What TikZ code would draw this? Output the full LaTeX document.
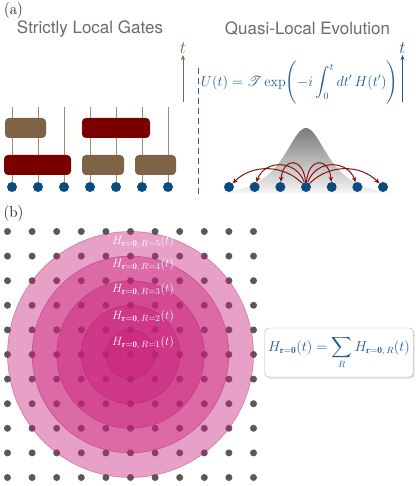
\documentclass[tikz,border=0pt]{standalone}
\usepackage{amsmath}
\usepackage{mathrsfs}
\usepackage{fontspec}
\setsansfont{TeX Gyre Heros}
\usetikzlibrary{arrows.meta,shadows,positioning}

\definecolor{gatebrown}{HTML}{7E6347}
\definecolor{gatered}{HTML}{7A0000}
\definecolor{wirebrown}{HTML}{A38B6E}
\definecolor{dotblue}{HTML}{0B4C80}
\definecolor{titlegray}{HTML}{6B6B6B}
\definecolor{eqblue}{HTML}{1A5B90}
\definecolor{dashblue}{HTML}{4B5B75}
\definecolor{arcred}{HTML}{8B1010}
\definecolor{gridgray}{HTML}{595959}
\definecolor{ringpink}{RGB}{200,30,120}

\tikzset{
  gate/.style={rounded corners=4pt, minimum height=20pt, inner sep=0pt},
  qubit/.style={circle, fill=dotblue, minimum size=10pt, inner sep=0pt},
  wire/.style={wirebrown, line width=1pt},
  title/.style={text=titlegray, font=\sffamily\fontsize{17}{20}\selectfont},
  ring/.style={fill=ringpink, fill opacity=0.42, draw=ringpink!85!black, draw opacity=0.45, line width=0.6pt},
  reach/.style={arcred, line width=1pt, -{Stealth[length=5pt,width=4.5pt]}},
}

\begin{document}
\begin{tikzpicture}[x=1pt,y=-1pt]

    \newcommand*{\xSite}{7.5}%
    \newcommand*{\ySite}{231.5}%
    \newcommand*{\dSite}{24.6}%
    \newcommand*{\yQubit}{187}%
    \def\Nsites {10}

    \useasboundingbox (0,0) rectangle (415,486);

    % (a) strictly local gates
    \node[font=\fontsize{16}{19}\selectfont] (laba) at (13.5,11) {(a)};
    \node[title] (tgates) at (90,29) {Strictly Local Gates};
    \node[title] (tquasi) at (307.5,29) {Quasi-Local Evolution};

    \foreach \i in {0,...,6} {
      \pgfmathsetmacro\xcoord{12 + 26*\i}
      \coordinate (w\i) at (\xcoord,107);
      \node[qubit] (q\i) at (\xcoord,\yQubit) {};
      \draw[wire] (w\i) -- (q\i);
    }
    \node[gate, fill=gatered,   minimum width=67pt] (g1) at (37.5,165) {};
    \node[gate, fill=gatebrown, minimum width=42pt] (g2) at (103,165) {};
    \node[gate, fill=gatebrown, minimum width=41pt] (g3) at (155.5,165) {};
    \node[gate, fill=gatebrown, minimum width=41pt] (g4) at (25.5,128) {};
    \node[gate, fill=gatered,   minimum width=68pt] (g5) at (116,128) {};

    \coordinate (tb0) at (183,102);
    \draw[gatebrown, line width=1pt, -{Stealth[length=5pt,width=4pt]}] (tb0) -- ++(0,-47)
      node[above, inner sep=1pt, font=\fontsize{17}{20}\selectfont] (tb) {$t$};

    \coordinate (d0) at (198,68);
    \coordinate (d1) at (198,198);
    \draw[dashblue, line width=1pt, dash pattern=on 6pt off 4pt] (d0) -- (d1);

    % quasi-local evolution
    \node[text=eqblue, font=\fontsize{14.3}{17}\selectfont] (ueq) at (299.5,83)
      {$U(t) = \mathscr{T}\exp\Biggl(-i\displaystyle\int_0^t dt'\,H(t')\Biggr)$};

    \coordinate (tq0) at (402.5,102);
    \draw[eqblue, line width=1pt, -{Stealth[length=5pt,width=4pt]}] (tq0) -- ++(0,-47)
      node[above, inner sep=1pt, font=\fontsize{18}{21}\selectfont] (tq) {$t$};

    \shade[top color=black!52, bottom color=black!4]
      plot[domain=222:390, samples=90] (\x,{193-65*(1/(1+((\x-306)/28)^2)-0.1)/0.9}) -- cycle;

    \foreach \i in {0,...,6} {
      \pgfmathsetmacro\xcoord{229 + 25.67*\i}
      \node[qubit] (p\i) at (\xcoord,\yQubit) {};
    }
    \foreach \i/\ang/\loose in {0/45/1, 1/70/1.3, 2/85/2.6}
      \draw[reach] (p3) to[bend right=\ang, looseness=\loose] (p\i);
    \foreach \i/\ang/\loose in {6/45/1, 5/70/1.3, 4/85/2.6}
      \draw[reach] (p3) to[bend left=\ang, looseness=\loose] (p\i);

    % (b) decomposition into shells
    \node[font=\fontsize{16}{19}\selectfont] (labb) at (13.5,214) {(b)};

    \foreach \i in {0,...,\Nsites} {
      \foreach \j in {0,...,\Nsites} {
        \fill[gridgray] (\xSite+\dSite*\i, \ySite+\dSite*\j) circle (3.5);
      }
    }
    \foreach \R in {5,4,3,2,1} {
      \filldraw[ring] (\xSite+5*\dSite, \ySite+5*\dSite) circle ({\R*\dSite});
    }
    \foreach \R/\yl in {5/242, 4/265, 3/290, 2/317, 1/343} {
      \node[text=white, font=\fontsize{12.5}{15}\selectfont] (h\R) at (143,\yl)
        {$H_{\mathbf{r}=\mathbf{0},\,R=\R}(t)$};
    }

    \node[draw=black!30, fill=white, rounded corners=4pt, minimum width=142pt, minimum height=49pt,
      drop shadow={opacity=0.25, shadow xshift=1.5pt, shadow yshift=-1.5pt},
      text=eqblue, font=\fontsize{13.5}{16}\selectfont] (sumbox) at (339,352.5)
      {$H_{\mathbf{r}=\mathbf{0}}(t) = \displaystyle\sum_R H_{\mathbf{r}=\mathbf{0},\,R}(t)$};
\end{tikzpicture}
\end{document}
